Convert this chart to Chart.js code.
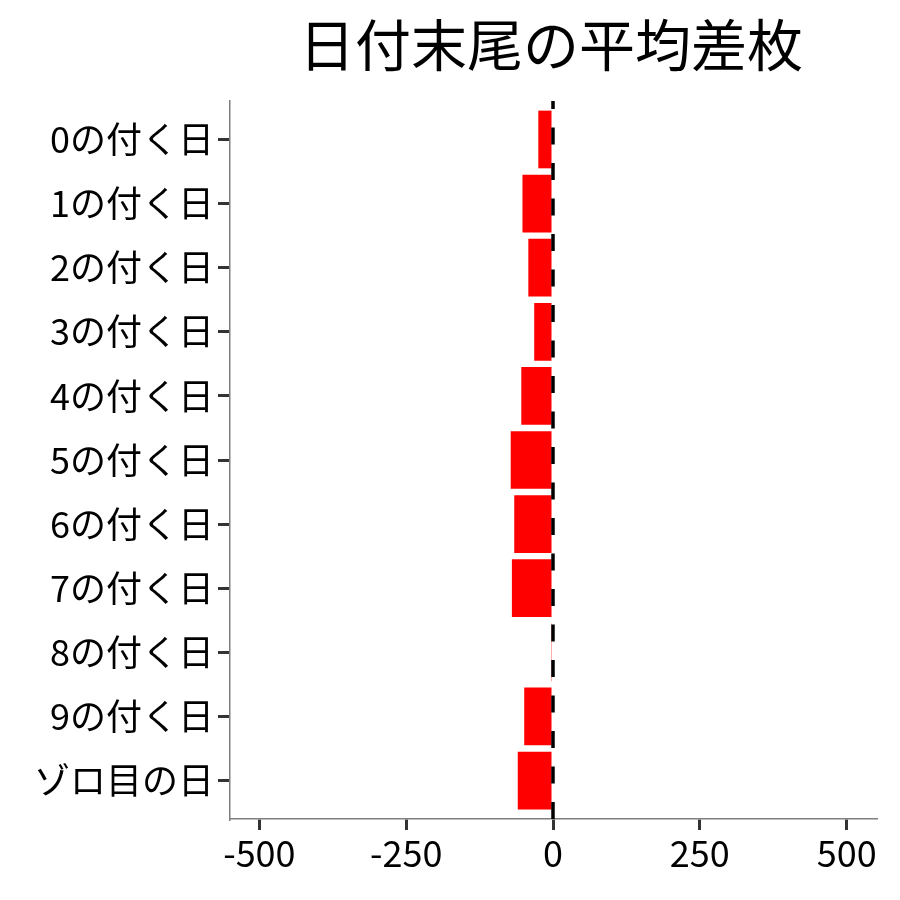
<!DOCTYPE html>
<html>
<head>
<meta charset="utf-8">
<script src="https://cdn.jsdelivr.net/npm/chart.js@4"></script>
<style>
body { margin: 0; background: #fff; }
#wrap { width: 900px; height: 900px; }
</style>
</head>
<body>
<div id="wrap"><canvas id="myChart"></canvas></div>
<script>
let title = "日付末尾の平均差枚";
let days = ["0の付く日", "1の付く日", "2の付く日", "3の付く日", "4の付く日", "5の付く日",
	"6の付く日", "7の付く日", "8の付く日", "9の付く日", "ゾロ目の日"];
let diff = [-25, -52, -42, -32, -54, -72, -66, -70, -2, -49, -60];
let xTicks = [-500, -250, 0, 250, 500];
let xRange = [-550, 550];

const font = "'Noto Sans CJK JP', 'Noto Sans', sans-serif";

// dashed zero line and title, drawn by hand
let extras = {
	id: "extras",
	afterDatasetsDraw(chart) {
		let ctx = chart.ctx;
		let area = chart.chartArea;
		let x0 = chart.scales.x.getPixelForValue(0);
		ctx.save();
		ctx.strokeStyle = "#000";
		ctx.lineWidth = 3.5;
		ctx.setLineDash([17, 18.5]);
		ctx.beginPath();
		ctx.moveTo(x0, area.bottom);
		ctx.lineTo(x0, area.top);
		ctx.stroke();
		ctx.restore();
	},
	afterDraw(chart) {
		let ctx = chart.ctx;
		let area = chart.chartArea;
		ctx.save();
		ctx.fillStyle = "#000";
		ctx.font = "56px " + font;
		ctx.textAlign = "center";
		ctx.textBaseline = "middle";
		ctx.fillText(title, (area.left + area.right) / 2 - 2, 45);
		ctx.restore();
	}
};

let chart = new Chart("myChart", {
	type: "bar",
	data: {
		datasets: [{
			data: diff.map((v, i) => ({ x: v, y: i })),
			backgroundColor: "#ff0000",
			borderWidth: 0,
			barPercentage: 0.9,
			categoryPercentage: 1
		}]
	},
	options: {
		indexAxis: "y",
		responsive: true,
		maintainAspectRatio: false,
		devicePixelRatio: 1,
		animation: false,
		layout: { padding: { top: 101, right: 24, left: 0, bottom: 0 } },
		plugins: {
			legend: { display: false },
			tooltip: { enabled: false }
		},
		scales: {
			x: {
				type: "linear",
				min: xRange[0],
				max: xRange[1],
				afterBuildTicks: s => { s.ticks = xTicks.map(v => ({ value: v })); },
				afterFit: s => { s.height = 81; },
				grid: { drawOnChartArea: false, drawTicks: true, tickLength: 11, color: "#333", lineWidth: 3 },
				border: { display: true, color: "#7f7f7f", width: 1.5 },
				ticks: { color: "#000", font: { family: font, size: 36 }, padding: 2, maxRotation: 0 }
			},
			y: {
				type: "linear",
				reverse: true,
				offset: false,
				min: -0.6,
				max: days.length - 0.4,
				afterBuildTicks: s => { s.ticks = days.map((d, i) => ({ value: i })); },
				afterFit: s => { s.width = 230; },
				grid: { offset: false, drawOnChartArea: false, drawTicks: true, tickLength: 12, color: "#333", lineWidth: 3 },
				border: { display: true, color: "#7f7f7f", width: 1.5 },
				ticks: {
					color: "#000",
					font: { family: font, size: 36 },
					padding: 4,
					callback: v => days[v]
				}
			}
		}
	},
	plugins: [extras]
});
</script>
</body>
</html>
